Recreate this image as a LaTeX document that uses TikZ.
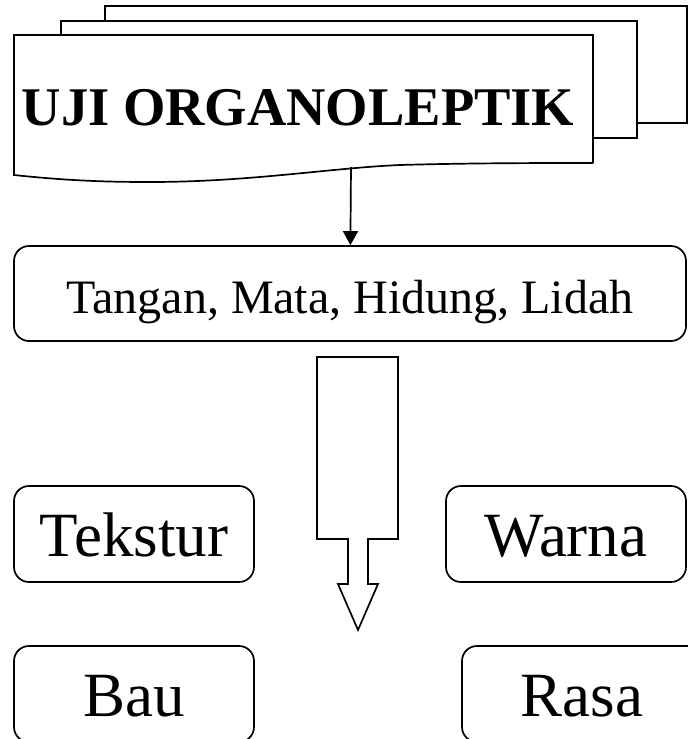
\documentclass[tikz,border=0pt]{standalone}
\usepackage{fontspec}
\setmainfont{Liberation Serif}
\usetikzlibrary{arrows.meta}

\tikzset{
  kotak/.style={draw, rounded corners=15pt, inner sep=0pt,
    minimum width=240pt, minimum height=96pt,
    text height=45pt, text depth=0pt,
    font=\fontsize{63}{70}\selectfont},
}

\begin{document}
\begin{tikzpicture}[x=1pt, y=-1pt, line width=1.7pt]
				\useasboundingbox (0,0) rectangle (688,739);

				% tumpukan dokumen
				\draw (105,21) -- (105,6) -- (687,6) -- (687,123) -- (637,123);
				\draw (61,35) -- (61,21) -- (637,21) -- (637,138) -- (593,138);
				\draw (593,163) -- (593,35) -- (14,35) -- (14,175)
					.. controls (70,181) and (110,182) .. (150,182)
					.. controls (250,182) and (330,168) .. (400,165)
					.. controls (470,163) and (540,163) .. (593,163);
				\node[anchor=base, font=\bfseries\fontsize{54.5}{60}\selectfont] (U) at (298,125) {UJI ORGANOLEPTIK};
				\coordinate (D) at (351,167);

				\node[kotak, minimum width=672pt, minimum height=95pt, text height=39pt,
					font=\fontsize{48}{56}\selectfont] (I) at (350,293.5) {Tangan, Mata, Hidung, Lidah};

				\path [-{Triangle[width=15pt,length=14pt]}] (D) edge (I);

				% panah blok
				\draw (317,357) -- (398,357) -- (398,539) -- (368,539) -- (368,584) -- (378,584)
					-- (358,630) -- (338,584) -- (348,584) -- (348,539) -- (317,539) -- cycle;

				\node[kotak] (T) at (134,534) {Tekstur};
				\node[kotak] (W) at (566,534) {Warna};
				\node[kotak] (B) at (134,694) {Bau};
				\node[kotak] (R) at (582,694) {Rasa};
			\end{tikzpicture}
\end{document}
